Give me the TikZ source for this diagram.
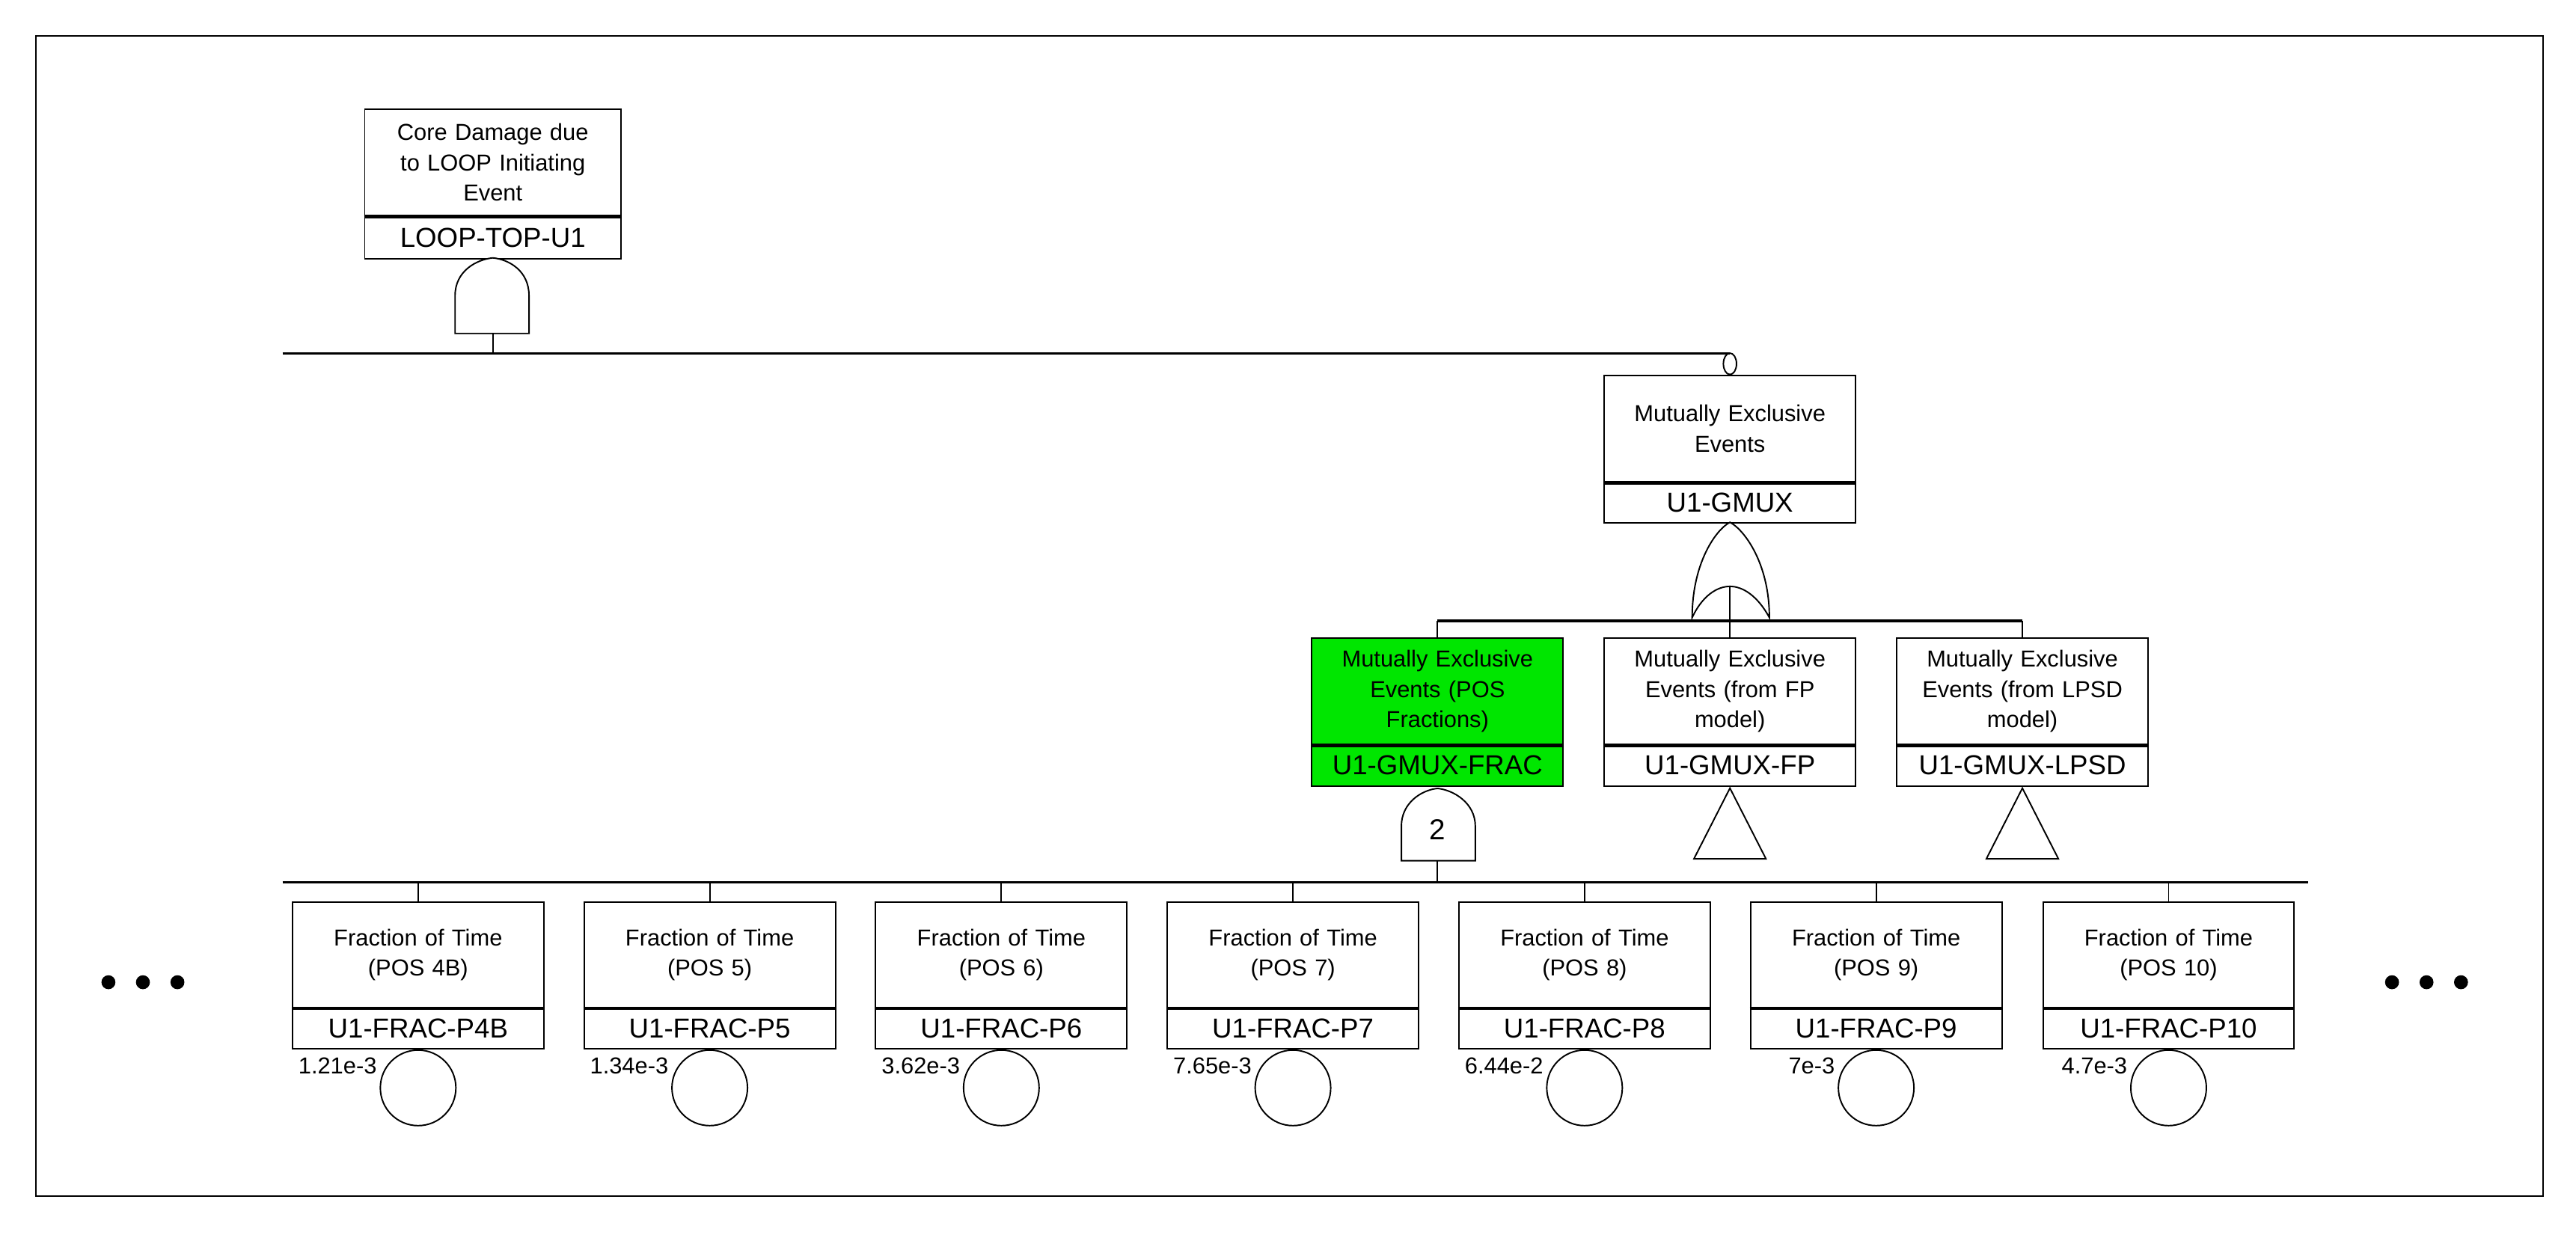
\documentclass[tikz,border=0pt]{standalone}
\usepackage{fontspec}
\setmainfont{Liberation Sans}
\usetikzlibrary{shapes.geometric}
\definecolor{mxgreen}{RGB}{0,230,0}
\begin{document}
\begin{tikzpicture}[x=0.02cm,y=-0.02cm,line width=0.5pt,
  desc/.style={draw,rectangle,anchor=north,minimum width=3.06cm,minimum height=1.3cm,inner sep=1pt,align=center,font=\fontsize{8}{10.5}\selectfont,text width=2.9cm},
  ident/.style={draw,rectangle,anchor=north,minimum width=3.06cm,minimum height=0.5cm,inner sep=0pt,font=\fontsize{9.5}{11}\selectfont},
  basic/.style={draw,circle,anchor=north,minimum size=0.92cm,inner sep=0pt},
  prob/.style={anchor=east,inner sep=1pt,font=\fontsize{8}{10}\selectfont},
  gate/.style={draw,fill=white},
  div/.style={line width=1.2pt}]
\useasboundingbox (0,0) rectangle (1568,751.5);
\draw (22,22) rectangle (1548,728);
% top event
\node[desc,minimum width=3.12cm,text width=3cm] (topd) at (300,66) {Core Damage due\\to LOOP Initiating\\Event};
\node[ident,minimum width=3.12cm] (topi) at (300,132) {LOOP-TOP-U1};
\draw[div] (topd.south west) -- (topd.south east);
\draw[gate] (277,203) -- (277,180) .. controls (277,165) and (290,158) .. (300,157) .. controls (310,158) and (322,165) .. (322,180) -- (322,203) -- cycle;
\coordinate (andout) at (300,203);
\coordinate (l1w) at (172,215);
\coordinate (l1e) at (1053,215);
\draw (andout) -- (andout |- l1w);
\draw[line width=0.8pt] (l1w) -- (l1e);
% GMUX
\node[desc] (muxd) at (1053,228) {Mutually Exclusive\\Events};
\node[ident] (muxi) at (1053,293) {U1-GMUX};
\draw[div] (muxd.south west) -- (muxd.south east);
\node[draw,ellipse,minimum width=0.16cm,minimum height=0.26cm,inner sep=0pt] (excl) at (1053,221.5) {};
\draw[gate] (1030,376) .. controls (1030,342) and (1045,322) .. (1053,318) .. controls (1061,322) and (1077,342) .. (1077,376) .. controls (1070,363) and (1061,357) .. (1053,357) .. controls (1045,357) and (1036,363) .. (1030,376) -- cycle;
\coordinate (orout) at (1053,357);
\coordinate (l2w) at (875,378);
\coordinate (l2e) at (1231,378);
\draw (orout) -- (orout |- l2w);
\draw[line width=0.8pt] (l2w) -- (l2e);
% second level
\node[desc,fill=mxgreen] (fracd) at (875,388) {Mutually Exclusive\\Events (POS\\Fractions)};
\node[ident,fill=mxgreen] (fraci) at (875,453) {U1-GMUX-FRAC};
\node[desc] (fpd) at (1053,388) {Mutually Exclusive\\Events (from FP\\model)};
\node[ident] (fpi) at (1053,453) {U1-GMUX-FP};
\node[desc] (lpd) at (1231,388) {Mutually Exclusive\\Events (from LPSD\\model)};
\node[ident] (lpi) at (1231,453) {U1-GMUX-LPSD};
\foreach \n in {fracd,fpd,lpd}{
  \draw[div] (\n.south west) -- (\n.south east);
  \draw (\n.north) -- (\n.north |- l2w);}
\draw[gate] (853,524) -- (853,503) .. controls (853,489) and (865,481) .. (875,480) .. controls (885,481) and (898,489) .. (898,503) -- (898,524) -- cycle;
\node[font=\fontsize{10}{12}\selectfont] (two) at (875,505) {2};
\node[draw,isosceles triangle,shape border rotate=90,isosceles triangle apex angle=54,minimum height=0.86cm,inner sep=0pt,anchor=apex] (trfp) at (fpi.south) {};
\node[draw,isosceles triangle,shape border rotate=90,isosceles triangle apex angle=54,minimum height=0.86cm,inner sep=0pt,anchor=apex] (trlp) at (lpi.south) {};
\coordinate (k2out) at (875,524);
\coordinate (l3w) at (172,537);
\coordinate (l3e) at (1405,537);
\draw (k2out) -- (k2out |- l3w);
\draw[line width=0.8pt] (l3w) -- (l3e);
% bottom events
\foreach \cx/\nm/\pos/\p in {254.5/P4B/4B/1.21e-3, 432/P5/5/1.34e-3, 609.5/P6/6/3.62e-3, 787/P7/7/7.65e-3, 964.5/P8/8/6.44e-2, 1142/P9/9/7e-3, 1320/P10/10/4.7e-3}{
  \node[desc,minimum height=1.28cm] (d\nm) at (\cx,549) {Fraction of Time\\(POS \pos)};
  \node[ident] (i\nm) at (\cx,613) {U1-FRAC-\nm};
  \draw[div] (d\nm.south west) -- (d\nm.south east);
  \draw (d\nm.north) -- (d\nm.north |- l3w);
  \node[basic] (c\nm) at (i\nm.south) {};
  \node[prob] (p\nm) at ([xshift=-0.46cm,yshift=-0.2cm]i\nm.south) {\p};
}
% ellipses
\foreach \x/\k in {66/a,87/b,108/c,1456/d,1477/e,1498/f}
  \fill (\x,598) circle (0.085cm) node (dot\k) {};
\end{tikzpicture}
\end{document}
